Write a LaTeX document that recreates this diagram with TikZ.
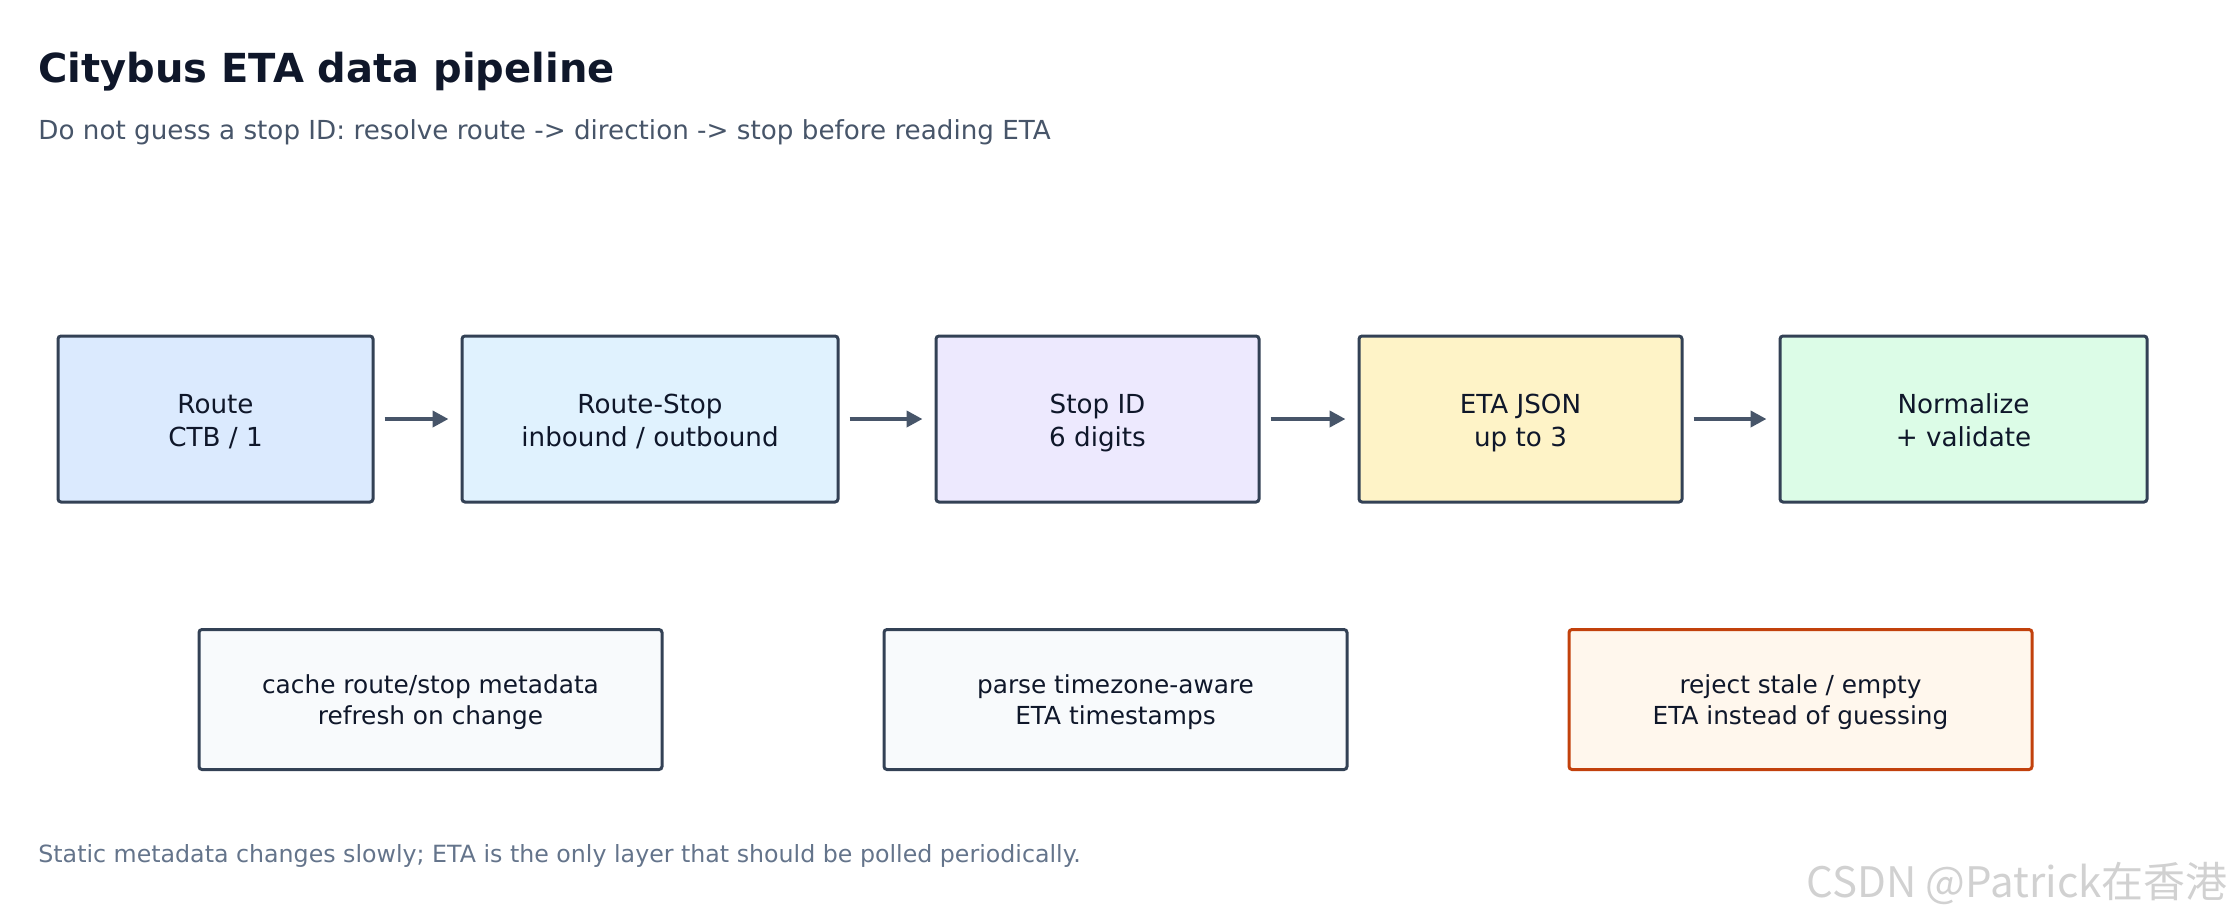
\documentclass[tikz,border=0pt]{standalone}
\usepackage{fontspec}
\setmainfont{DejaVu Sans}
\newfontfamily\cjkfont{Noto Sans CJK SC}
\usetikzlibrary{arrows.meta,positioning}
\definecolor{ink}{HTML}{0F172A}
\definecolor{subink}{HTML}{475569}
\definecolor{footink}{HTML}{64748B}
\definecolor{edge}{HTML}{334155}
\definecolor{arrowc}{HTML}{475569}
\definecolor{routefill}{HTML}{DBEAFE}
\definecolor{rstopfill}{HTML}{E0F2FE}
\definecolor{stopfill}{HTML}{EDE9FE}
\definecolor{etafill}{HTML}{FEF3C7}
\definecolor{normfill}{HTML}{DCFCE7}
\definecolor{notefill}{HTML}{F8FAFC}
\definecolor{warnfill}{HTML}{FFF7ED}
\definecolor{warnedge}{HTML}{C2410C}
\tikzset{box/.style={draw=edge, line width=1.5pt, rounded corners=1.5pt, inner sep=0pt, align=center, text=ink}}
\tikzset{stage/.style={box, minimum height=83pt, font=\fontsize{13.1}{16.5}\selectfont, text height=32.3pt, text depth=4.95pt}}
\tikzset{note/.style={box, minimum height=70pt, minimum width=231.5pt, fill=notefill, font=\fontsize{12.4}{15.5}\selectfont, text height=29.9pt, text depth=4.65pt}}
\tikzset{arr/.style={draw=arrowc, line width=2pt, -{Triangle[length=8pt,width=8pt]}, shorten <=5pt, shorten >=6pt}}

\begin{document}
\begin{tikzpicture}[x=0.5pt, y=-0.5pt]
        \useasboundingbox (0,0) rectangle (2231,917);
        \node[anchor=base west, inner sep=0pt, text=ink, font=\bfseries\fontsize{20}{24}\selectfont] (title) at (38,82) {Citybus ETA data pipeline};
        \node[anchor=base west, inner sep=0pt, text=subink, font=\fontsize{13.1}{15}\selectfont] (subtitle) at (38,139) {Do not guess a stop ID: resolve route -> direction -> stop before reading ETA};

        % pipeline
        \node[stage, fill=routefill, minimum width=157.5pt] (route) at (215.5,419) {Route\\CTB / 1};
        \node[stage, fill=rstopfill, minimum width=188pt] (routestop) at (650,419) {Route-Stop\\inbound / outbound};
        \node[stage, fill=stopfill, minimum width=161.5pt] (stopid) at (1097.5,419) {Stop ID\\6 digits};
        \node[stage, fill=etafill, minimum width=161.5pt] (etajson) at (1520.5,419) {ETA JSON\\up to 3};
        \node[stage, fill=normfill, minimum width=183.5pt] (normalize) at (1963.5,419) {Normalize\\+ validate};

        \draw[arr] (route) -- (routestop);
        \draw[arr] (routestop) -- (stopid);
        \draw[arr] (stopid) -- (etajson);
        \draw[arr] (etajson) -- (normalize);

        % notes
        \node[note] (cache) at (430.5,699.5) {cache route/stop metadata\\refresh on change};
        \node[note] (parse) at (1115.5,699.5) {parse timezone-aware\\ETA timestamps};
        \node[note, fill=warnfill, draw=warnedge] (reject) at (1800.5,699.5) {reject stale / empty\\ETA instead of guessing};

        \node[anchor=base west, inner sep=0pt, text=footink, font=\fontsize{11.85}{14}\selectfont] (footer) at (38,862) {Static metadata changes slowly; ETA is the only layer that should be polled periodically.};
        \node[anchor=base east, inner sep=0pt, text=black!18, font=\cjkfont\fontsize{21}{24}\selectfont] (mark) at (2228,897) {CSDN @Patrick在香港};
\end{tikzpicture}
\end{document}
